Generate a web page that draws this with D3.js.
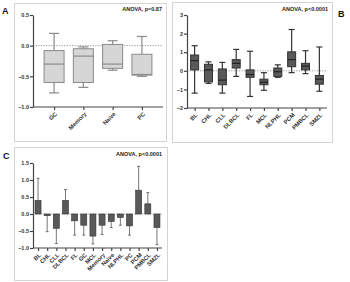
<!DOCTYPE html>
<html>
<head>
<meta charset="utf-8">
<script src="https://cdn.jsdelivr.net/npm/d3@7"></script>
<style>
  body { margin: 0; background: #fff; }
  text { font-family: "Liberation Sans", Arial, sans-serif; }
</style>
</head>
<body>
<div id="chart"></div>
<script>
// Panel A - normal B-cell subsets
var catsA = ["GC", "Memory", "Naive", "PC"];
var minA = [-0.77, -0.68, -0.40, -0.50];
var q1A = [-0.60, -0.60, -0.37, -0.48];
var medA = [-0.30, -0.17, -0.30, -0.47];
var q3A = [-0.08, -0.05, 0.02, -0.14];
var maxA = [0.20, -0.02, 0.08, 0.15];
var ticksA = [0.5, 0.0, -0.5, -1.0];

// Panel B - lymphoma subtypes
var catsB = ["BL", "CHL", "CLL", "DLBCL", "FL", "MCL", "NLPHL", "PCM", "PMBCL", "SMZL"];
var minB = [-1.2, -0.68, -1.2, -0.3, -1.38, -1.05, -0.35, -0.1, -0.15, -1.1];
var q1B = [0.05, -0.6, -0.75, 0.15, -0.35, -0.75, -0.3, 0.22, 0.05, -0.72];
var medB = [0.55, 0.05, -0.5, 0.4, -0.2, -0.62, -0.05, 0.6, 0.25, -0.45];
var q3B = [0.85, 0.35, 0.1, 0.6, 0.05, -0.45, 0.15, 1.02, 0.4, -0.25];
var maxB = [1.35, 0.48, 0.45, 1.15, 1.05, -0.1, 0.32, 2.22, 1.08, 1.28];
var ticksB = [3, 2, 1, 0, -1, -2];

// Panel C - mean +/- SD, all groups
var catsC = ["BL", "CHL", "CLL", "DLBCL", "FL", "GC", "MCL", "Memory", "Naive", "NLPHL", "PC", "PCM", "PMBCL", "SMZL"];
var meanC = [0.4, -0.05, -0.42, 0.4, -0.2, -0.33, -0.65, -0.33, -0.22, -0.1, -0.35, 0.7, 0.3, -0.4];
var errC = [1.05, -0.52, -0.87, 0.72, -0.62, -0.62, -0.88, -0.6, -0.4, -0.33, -0.62, 1.4, 0.63, -0.9];
var ticksC = [1.5, 1.0, 0.5, 0.0, -0.5, -1.0];

var svg = d3.select("#chart")
  .append("svg")
  .attr("width", 350)
  .attr("height", 282);

// panel frames
function frame(x, y, w, h) {
  svg.append("rect")
    .attr("x", x + 0.5)
    .attr("y", y + 0.5)
    .attr("width", w)
    .attr("height", h)
    .attr("fill", "none")
    .attr("stroke", "#d4d4d4")
    .attr("stroke-width", 1);
}
frame(14, 3, 152, 138);
frame(172, 2, 160, 140);
frame(14, 147, 153, 133);

function panelLabel(txt, x, y) {
  svg.append("text")
    .attr("x", x)
    .attr("y", y)
    .attr("font-size", "9px")
    .attr("font-weight", "bold")
    .attr("fill", "#111")
    .text(txt);
}
panelLabel("A", 2, 14);
panelLabel("B", 338, 17);
panelLabel("C", 3, 159);

function anova(txt, x, y) {
  svg.append("text")
    .attr("x", x)
    .attr("y", y)
    .attr("text-anchor", "end")
    .attr("font-size", "5.5px")
    .attr("font-weight", "bold")
    .attr("fill", "#222")
    .text(txt);
}

// draws y axis, x axis with rotated labels, dotted zero line
function axes(g, x, y, ticks, fmt, x0, x1, yBase) {
  var leftAxis = d3.axisLeft(y)
    .tickValues(ticks)
    .tickFormat(fmt)
    .tickSize(3)
    .tickSizeOuter(0);
  var yAxis = g.append("g")
    .attr("transform", `translate(${x0}, 0)`)
    .call(leftAxis);
  yAxis.select(".domain").attr("stroke", "#444").attr("stroke-width", 1.2);
  yAxis.selectAll(".tick line").attr("stroke", "#444").attr("stroke-width", 1.2);
  yAxis.selectAll("text")
    .attr("font-size", "5.5px")
    .attr("font-weight", "bold")
    .attr("fill", "#333")
    .attr("x", -4);

  // zero line
  g.append("line")
    .attr("x1", x0)
    .attr("x2", x1)
    .attr("y1", y(0))
    .attr("y2", y(0))
    .attr("stroke", "#666")
    .attr("stroke-width", 0.7)
    .attr("stroke-dasharray", "1.2,1.4");

  var bottomAxis = d3.axisBottom(x)
    .tickSize(3)
    .tickSizeOuter(0)
    .tickFormat("");
  var xAxis = g.append("g")
    .attr("transform", `translate(0, ${yBase})`)
    .call(bottomAxis);
  xAxis.select(".domain").remove();
  xAxis.append("line")
    .attr("x1", x0)
    .attr("x2", x1)
    .attr("stroke", "#444")
    .attr("stroke-width", 1.2);
  xAxis.selectAll(".tick line").attr("stroke", "#444").attr("stroke-width", 1.2);

  // rotated category labels
  g.selectAll("text.xlab")
    .data(x.domain())
    .enter()
    .append("text")
    .attr("class", "xlab")
    .attr("transform", d => `translate(${x(d) + 2}, ${yBase + 6}) rotate(-45)`)
    .attr("dy", "0.35em")
    .attr("text-anchor", "end")
    .attr("font-size", "5.8px")
    .attr("font-weight", "bold")
    .attr("fill", "#333")
    .text(d => d);
}

// box plot drawing
function boxes(g, x, y, cats, mins, q1, med, q3, maxs, bw, cap, fill, stroke, medStroke) {
  cats.forEach(function(c, i) {
    var cx = x(c);
    g.append("line")
      .attr("x1", cx).attr("x2", cx)
      .attr("y1", y(maxs[i])).attr("y2", y(mins[i]))
      .attr("stroke", stroke).attr("stroke-width", 1.2);
    g.append("line")
      .attr("x1", cx - cap / 2).attr("x2", cx + cap / 2)
      .attr("y1", y(maxs[i])).attr("y2", y(maxs[i]))
      .attr("stroke", stroke).attr("stroke-width", 1.2);
    g.append("line")
      .attr("x1", cx - cap / 2).attr("x2", cx + cap / 2)
      .attr("y1", y(mins[i])).attr("y2", y(mins[i]))
      .attr("stroke", stroke).attr("stroke-width", 1.2);
    g.append("rect")
      .attr("x", cx - bw / 2)
      .attr("y", y(q3[i]))
      .attr("width", bw)
      .attr("height", y(q1[i]) - y(q3[i]))
      .attr("fill", fill)
      .attr("stroke", stroke)
      .attr("stroke-width", 1);
    g.append("line")
      .attr("x1", cx - bw / 2).attr("x2", cx + bw / 2)
      .attr("y1", y(med[i])).attr("y2", y(med[i]))
      .attr("stroke", medStroke).attr("stroke-width", 1.2);
  });
}

// ---- Panel A
var gA = svg.append("g");
var xA = d3.scalePoint().domain(catsA).range([33, 163]).padding(0.72);
var yA = d3.scaleLinear().domain([-1.0, 0.5]).range([107, 15]);
axes(gA, xA, yA, ticksA, d3.format(".1f"), 33, 163, 107);
boxes(gA, xA, yA, catsA, minA, q1A, medA, q3A, maxA, 20, 10, "#d6d6d6", "#8a8a8a", "#8a8a8a");
anova("ANOVA, p=0.87", 162, 11);

// ---- Panel B
var gB = svg.append("g");
var xB = d3.scalePoint().domain(catsB).range([187, 327]).padding(0.55);
var yB = d3.scaleLinear().domain([-2, 3]).range([108, 15]);
axes(gB, xB, yB, ticksB, d3.format("d"), 187, 327, 108);
boxes(gB, xB, yB, catsB, minB, q1B, medB, q3B, maxB, 8, 6, "#5a5a5a", "#333", "#222");
anova("ANOVA, p<0.0001", 328, 11);

// ---- Panel C
var gC = svg.append("g");
var xC = d3.scalePoint().domain(catsC).range([33, 162]).padding(0.55);
var yC = d3.scaleLinear().domain([-1.0, 1.5]).range([248, 163]);
axes(gC, xC, yC, ticksC, d3.format(".1f"), 33, 162, 248);
catsC.forEach(function(c, i) {
  var cx = xC(c);
  gC.append("line")
    .attr("x1", cx).attr("x2", cx)
    .attr("y1", yC(meanC[i])).attr("y2", yC(errC[i]))
    .attr("stroke", "#555").attr("stroke-width", 0.8);
  gC.append("line")
    .attr("x1", cx - 1.5).attr("x2", cx + 1.5)
    .attr("y1", yC(errC[i])).attr("y2", yC(errC[i]))
    .attr("stroke", "#555").attr("stroke-width", 0.8);
});
gC.selectAll("rect.bar")
  .data(catsC)
  .enter()
  .append("rect")
  .attr("class", "bar")
  .attr("x", d => xC(d) - 3)
  .attr("width", 6)
  .attr("y", (d, i) => yC(Math.max(0, meanC[i])))
  .attr("height", (d, i) => Math.abs(yC(meanC[i]) - yC(0)))
  .attr("fill", "#595959")
  .attr("stroke", "#333")
  .attr("stroke-width", 0.6);
anova("ANOVA, p<0.0001", 162, 156);
</script>
</body>
</html>
